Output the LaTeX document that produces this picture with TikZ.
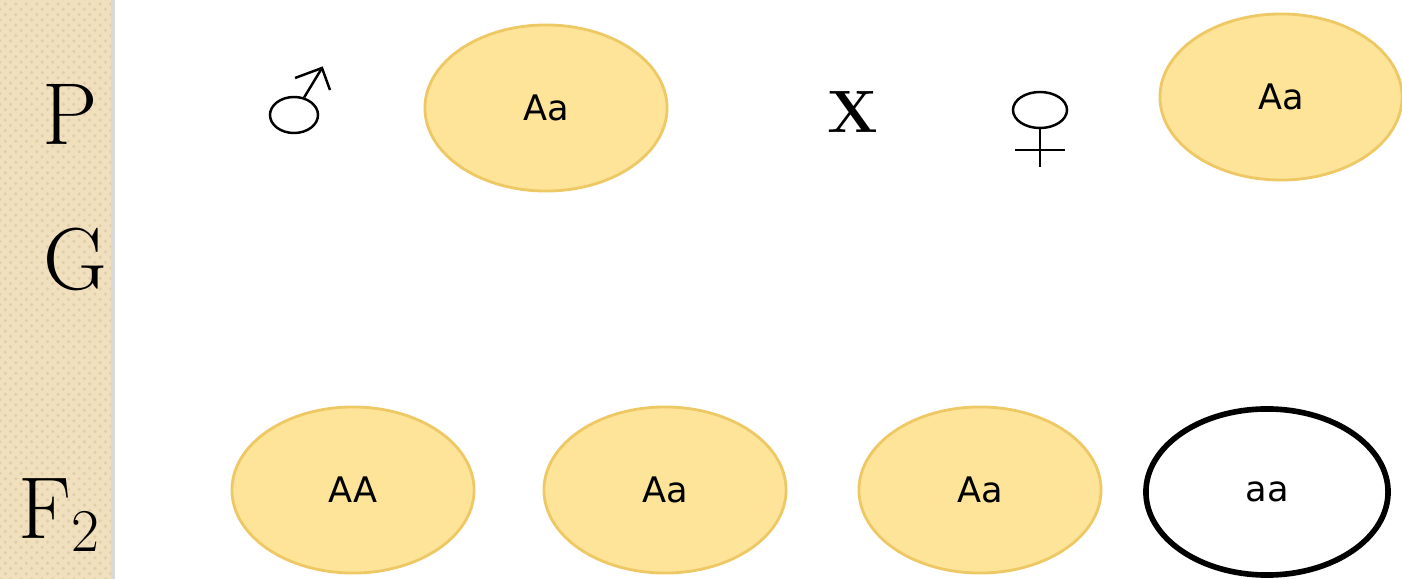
\documentclass[tikz,border=0pt]{standalone}
\usepackage{fontspec}
\usetikzlibrary{patterns,shapes.geometric}
\newfontfamily\genofont{DejaVu Sans}

\definecolor{stripFill}{RGB}{241,224,190}
\definecolor{stripDot}{RGB}{226,206,168}
\definecolor{genoFill}{RGB}{253,228,152}
\definecolor{genoLine}{RGB}{238,200,100}

\tikzset{
  genotype/.style={ellipse, minimum width=2.42cm, minimum height=1.66cm,
    fill=genoFill, draw=genoLine, line width=0.8pt,
    font=\genofont\fontsize{10}{12}\selectfont},
  recessive/.style={genotype, fill=white, draw=black, line width=1.6pt},
  rowlabel/.style={anchor=base, inner sep=0pt, font=\fontsize{25}{28}\selectfont},
  sexring/.style={ellipse, draw, line width=0.7pt, inner sep=0pt},
  sexline/.style={line width=0.7pt}
}

\begin{document}
\begin{tikzpicture}[x=0.01cm, y=-0.01cm]
  \useasboundingbox (0,0) rectangle (1402,579);

  % generation strip
  \fill[stripFill] (0,0) rectangle (113,579);
  \fill[pattern=crosshatch dots, pattern color=stripDot] (0,0) rectangle (113,579);
  \draw[black!15, line width=1pt] (113,0) -- (113,579);

  \node[rowlabel] (labP) at (70,145) {P};
  \node[rowlabel] (labG) at (75,290) {G};
  \node[rowlabel] (labF) at (60,538) {F$_2$};

  % male sign
  \node[sexring, minimum width=0.48cm, minimum height=0.36cm] (maleRing) at (294,115) {};
  \coordinate (maleTip) at (322,68);
  \coordinate (maleBarbL) at (295,78);
  \coordinate (maleBarbR) at (330,90);
  \draw[sexline] (maleRing.60) -- (maleTip);
  \draw[sexline] (maleBarbL) -- (maleTip) -- (maleBarbR);

  % female sign
  \node[sexring, minimum width=0.54cm, minimum height=0.36cm] (femaleRing) at (1040,110) {};
  \coordinate (femaleFoot) at (1040,167);
  \coordinate (barL) at (1015,150);
  \coordinate (barR) at (1065,150);
  \draw[sexline] (femaleRing.south) -- (femaleFoot);
  \draw[sexline] (barL) -- (barR);

  % parents
  \node[genotype] (pMale) at (546,108) {Aa};
  \node[inner sep=0pt, font=\bfseries\fontsize{17}{20}\selectfont] (cross) at (853,112) {X};
  \node[genotype] (pFemale) at (1281,97) {Aa};

  % offspring
  \node[genotype] (fAA) at (353,490) {AA};
  \node[genotype] (fAa1) at (665,490) {Aa};
  \node[genotype] (fAa2) at (980,490) {Aa};
  \node[recessive] (faa) at (1267,492) {aa};
\end{tikzpicture}
\end{document}
